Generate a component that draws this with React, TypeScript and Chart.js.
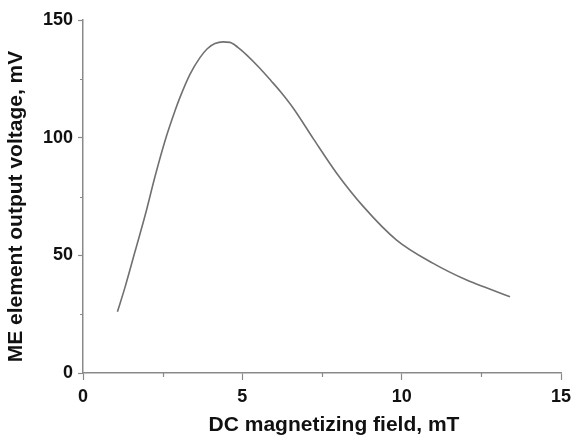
import React, { useEffect, useRef } from "react";
import { Chart, registerables } from "chart.js";

Chart.register(...registerables);

const fieldValues = [1.08, 1.32, 1.63, 1.95, 2.26, 2.57, 2.89, 3.04, 3.36, 3.67, 3.9, 4.14, 4.4, 4.61, 4.85, 5.14, 5.55, 5.9, 6.2, 6.6, 7.23, 7.96, 8.8, 9.84, 10.99, 12.04, 12.7, 13.4];
const voltageValues = [26, 36.5, 51.5, 67, 83.5, 98.5, 111.5, 117, 127, 134, 137.8, 140, 140.7, 140.5, 138.5, 135.1, 129.5, 124.2, 119.5, 112.5, 99.5, 84.9, 70.7, 56.5, 46.6, 39.5, 36, 32.4];

const xMinorTicks = [2.5, 7.5, 12.5];
const yMinorTicks = [25, 75, 125];

const xTitle = "DC magnetizing field, mT";
const yTitle = "ME element output voltage, mV";

const FONT = "'Liberation Sans', Arial, sans-serif";
const AXIS_COLOR = "#8a8a8a";
const TEXT_COLOR = "#111111";

const extrasPlugin = {
  id: "extras",
  afterDraw(chart: any) {
    const { ctx, chartArea, scales } = chart;
    const xs = scales.x;
    const ys = scales.y;
    ctx.save();
    ctx.strokeStyle = AXIS_COLOR;
    ctx.lineWidth = 1.2;
    ctx.beginPath();
    for (const v of xMinorTicks) {
      const px = Math.round(xs.getPixelForValue(v)) + 0.5;
      ctx.moveTo(px, chartArea.bottom);
      ctx.lineTo(px, chartArea.bottom + 4);
    }
    for (const v of yMinorTicks) {
      const py = Math.round(ys.getPixelForValue(v)) + 0.5;
      ctx.moveTo(chartArea.left, py);
      ctx.lineTo(chartArea.left - 3, py);
    }
    ctx.stroke();

    ctx.fillStyle = TEXT_COLOR;
    ctx.font = `bold 21px ${FONT}`;
    ctx.textAlign = "center";
    ctx.textBaseline = "middle";
    ctx.fillText(xTitle, (chartArea.left + chartArea.right) / 2 + 12, 425);

    ctx.translate(16, (chartArea.top + chartArea.bottom) / 2 + 10);
    ctx.rotate(-Math.PI / 2);
    ctx.fillText(yTitle, 0, 0);
    ctx.restore();
  },
};

export default function App() {
  const canvasRef = useRef<HTMLCanvasElement | null>(null);

  useEffect(() => {
    const canvas = canvasRef.current;
    if (!canvas) return;
    const chart = new Chart(canvas, {
      type: "line",
      data: {
        datasets: [
          {
            data: fieldValues.map((x, i) => ({ x, y: voltageValues[i] })),
            borderColor: "#707070",
            borderWidth: 1.6,
            pointRadius: 0,
            fill: false,
            cubicInterpolationMode: "monotone",
          },
        ],
      },
      options: {
        responsive: false,
        animation: false,
        layout: { padding: { top: 20, right: 12, left: 0, bottom: 0 } },
        plugins: {
          legend: { display: false },
          tooltip: { enabled: false },
        },
        scales: {
          x: {
            type: "linear",
            min: 0,
            max: 15,
            afterFit: (scale: any) => {
              scale.height = 62;
              scale.paddingRight = 0;
              scale.paddingLeft = 0;
            },
            ticks: {
              stepSize: 5,
              font: { family: FONT, size: 18, weight: "bold" },
              color: TEXT_COLOR,
              padding: 6,
              maxRotation: 0,
            },
            grid: {
              display: true,
              drawOnChartArea: false,
              drawTicks: true,
              tickLength: 7,
              tickColor: AXIS_COLOR,
              tickWidth: 1.2,
            },
            border: { display: true, color: AXIS_COLOR, width: 1.5 },
            title: { display: false },
          },
          y: {
            type: "linear",
            min: 0,
            max: 150,
            afterFit: (scale: any) => {
              scale.width = 83;
              scale.paddingTop = 0;
              scale.paddingBottom = 0;
            },
            ticks: {
              stepSize: 50,
              font: { family: FONT, size: 18, weight: "bold" },
              color: TEXT_COLOR,
              padding: 5,
            },
            grid: {
              display: true,
              drawOnChartArea: false,
              drawTicks: true,
              tickLength: 5,
              tickColor: AXIS_COLOR,
              tickWidth: 1.2,
            },
            border: { display: true, color: AXIS_COLOR, width: 1.5 },
            title: { display: false },
          },
        },
      },
      plugins: [extrasPlugin],
    });
    return () => chart.destroy();
  }, []);

  return (
    <div style={{ position: "absolute", left: 0, top: 0, width: 573, height: 435, background: "#fff" }}>
      <canvas ref={canvasRef} width={573} height={435} style={{ display: "block" }} />
    </div>
  );
}
